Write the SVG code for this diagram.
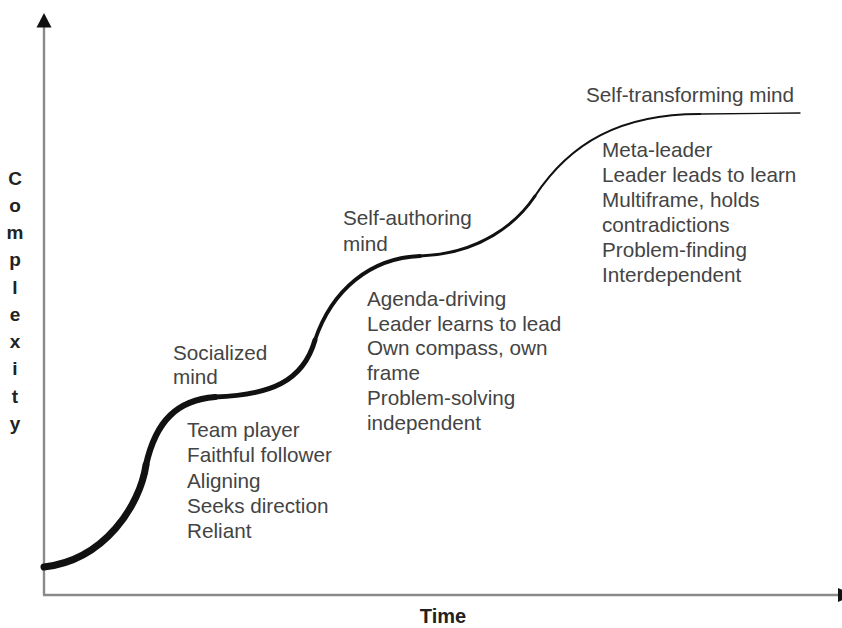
<svg xmlns="http://www.w3.org/2000/svg" width="842" height="628" viewBox="0 0 842 628">
  <style>
    .axis { stroke: #8a8a8a; stroke-width: 2.4; fill: none; }
    .head { fill: #111; }
    .curve { stroke: #111; fill: none; stroke-linecap: round; }
    .lbl { font-family: "Liberation Sans", Arial, sans-serif; font-size: 20.7px; fill: #444; }
    .axlbl { font-family: "Liberation Sans", Arial, sans-serif; font-weight: bold; fill: #222; }
  </style>
  <rect width="842" height="628" fill="#fff"/>

  <!-- axes -->
  <g id="axes">
    <line class="axis" x1="44" y1="595" x2="44" y2="26"/>
    <polygon class="head" points="44,13 36.5,27.5 51.5,27.5"/>
    <line class="axis" x1="43" y1="595" x2="839" y2="595"/>
    <polygon class="head" points="838,588 853,595 838,602"/>
    <text class="axlbl" x="443" y="623" font-size="20" text-anchor="middle">Time</text>
    <g class="axlbl" font-size="19" text-anchor="middle">
      <text x="15" y="185">C</text>
      <text x="15" y="212">o</text>
      <text x="15" y="239">m</text>
      <text x="15" y="266">p</text>
      <text x="15" y="293.5">l</text>
      <text x="15" y="320.5">e</text>
      <text x="15" y="347.5">x</text>
      <text x="15" y="375">i</text>
      <text x="15" y="402.5">t</text>
      <text x="15" y="429.5">y</text>
    </g>
  </g>

  <!-- growth curve, tapering from thick to thin -->
  <g id="connectors">
    <path class="curve" stroke-width="7" d="M44,567 C105,560 140,505 146,465"/>
    <path class="curve" stroke-width="6.2" d="M146,465 C156,420 178,400 215,397"/>
    <path class="curve" stroke-width="5" d="M215,397 C270,395 303,382 315,340"/>
    <path class="curve" stroke-width="3.8" d="M315,340 C332,290 370,258 420,256"/>
    <path class="curve" stroke-width="3" d="M420,256 C480,254 517,223 535,196"/>
    <path class="curve" stroke-width="2.2" d="M535,196 C570,143 620,114 700,114"/>
    <path class="curve" stroke-width="1.3" stroke="#444" d="M700,114 L800,113"/>
  </g>

  <g id="socialized">
    <text class="lbl" x="173" y="360">Socialized</text>
    <text class="lbl" x="173" y="384">mind</text>
    <text class="lbl" x="187" y="437">Team player</text>
    <text class="lbl" x="187" y="462">Faithful follower</text>
    <text class="lbl" x="187" y="487.5">Aligning</text>
    <text class="lbl" x="187" y="513">Seeks direction</text>
    <text class="lbl" x="187" y="538">Reliant</text>
  </g>

  <g id="self-authoring">
    <text class="lbl" x="343" y="225">Self-authoring</text>
    <text class="lbl" x="343" y="250.5">mind</text>
    <text class="lbl" x="367" y="306">Agenda-driving</text>
    <text class="lbl" x="367" y="330.5">Leader learns to lead</text>
    <text class="lbl" x="367" y="355">Own compass, own</text>
    <text class="lbl" x="367" y="380">frame</text>
    <text class="lbl" x="367" y="405">Problem-solving</text>
    <text class="lbl" x="367" y="430">independent</text>
  </g>

  <g id="self-transforming">
    <text class="lbl" x="586" y="102">Self-transforming mind</text>
    <text class="lbl" x="602" y="157">Meta-leader</text>
    <text class="lbl" x="602" y="182">Leader leads to learn</text>
    <text class="lbl" x="602" y="207">Multiframe, holds</text>
    <text class="lbl" x="602" y="232">contradictions</text>
    <text class="lbl" x="602" y="257">Problem-finding</text>
    <text class="lbl" x="602" y="282">Interdependent</text>
  </g>
</svg>
